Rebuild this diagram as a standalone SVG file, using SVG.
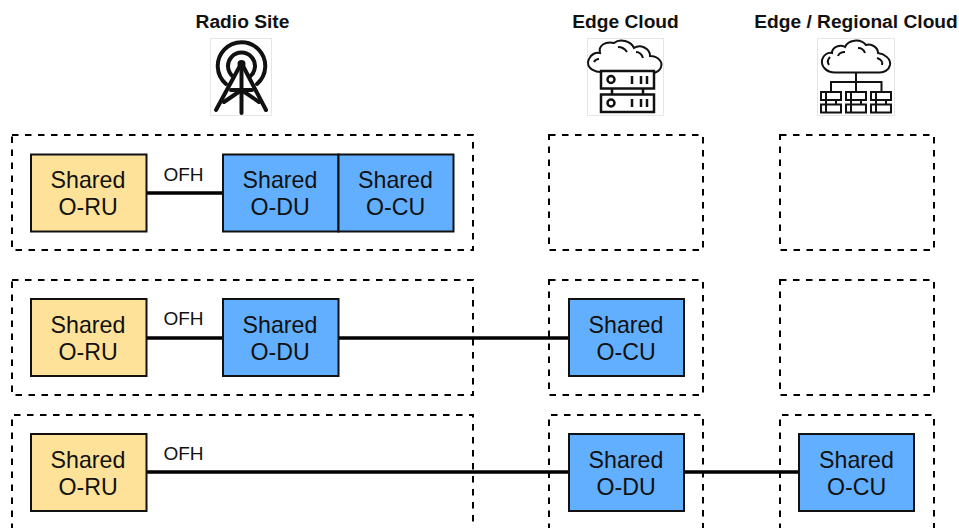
<svg xmlns="http://www.w3.org/2000/svg" width="959" height="528" viewBox="0 0 959 528">
<style>
text{font-family:"Liberation Sans",Arial,sans-serif;fill:#111}
.t{font-size:19.2px;font-weight:bold;text-anchor:middle}
.n{font-size:23.2px;text-anchor:middle}
.o{font-size:19px;text-anchor:middle}
.d{fill:none;stroke:#000;stroke-width:2;stroke-dasharray:6.5 6.5}
.ru{fill:#ffe299;stroke:#111;stroke-width:2}
.b{fill:#63afff;stroke:#111;stroke-width:2}
.c{fill:none;stroke:#000;stroke-width:3.5}
.i{fill:none;stroke:#111;stroke-width:2}
.bg{fill:#fff;stroke:#e6e6e6;stroke-width:1}
</style>
<rect width="959" height="528" fill="#fff"/>
<g id="headers">
<text class="t" x="242.500" y="28">Radio Site</text>
<text class="t" x="625.500" y="28">Edge Cloud</text>
<text class="t" x="856" y="28">Edge / Regional Cloud</text>
</g>
<g id="icon-radio">
<rect class="bg" x="210.500" y="38.500" width="61" height="77"/>
<g fill="none" stroke="#111" stroke-width="4" stroke-linecap="round">
<path d="M226 84A23.750 23.750 0 1 1 257 84"/>
<path d="M233 76.500A13.500 13.500 0 1 1 250 76.500"/>
<path d="M241.500 63V113"/>
<path d="M241.500 63L216 110"/>
<path d="M241.500 63L266 110"/>
<path d="M231 90H252"/>
<path d="M224 102L241.500 90L259 102"/>
</g>
<circle cx="241.500" cy="64" r="4" fill="#111"/>
</g>
<g id="icon-edge">
<rect class="bg" x="587.500" y="38.500" width="76" height="77"/>
<path class="i" stroke-width="2.500" d="M600 72C590 71 586 65 589 59C591 54 596 52 600 53C598 45 606 41 614 43C620 38 631 41 634 48C640 44 650 48 650 56C658 56 663 62 661 67C660 71 657 72 654 73"/>
<path class="i" d="M594 62C595 60 597 59 599 59M618 47C622 47 625 49 627 52M636 52C640 52 642 55 643 58"/>
<g fill="none" stroke="#111" stroke-width="2.500">
<rect x="601" y="71" width="53" height="17.500"/>
<rect x="601" y="94.500" width="53" height="17.500"/>
<path d="M612 88V94.500M643 88V94.500"/>
<circle cx="611" cy="79.500" r="3.500"/>
<circle cx="611" cy="103" r="3.500"/>
<path d="M632 76V84M641 76V84M647 76V84M632 99V107M641 99V107M647 99V107"/>
</g>
</g>
<g id="icon-regional">
<rect class="bg" x="817.500" y="38.500" width="77" height="77"/>
<path class="i" stroke-width="2.500" d="M835 72.500C826 72.500 821 66 822 60C823 55 828 52 832 53C832 47 840 44 845 47C848 40 860 38 866 45C872 43 878 48 878 53C885 54 891 59 890 65C889 70 884 72.500 880 72.500Z"/>
<path class="i" d="M829 65C827 62 828 59 830 57M838 56C839 53 842 52 845 52M858 48C862 48 864 50 865 53M877 58C881 59 883 62 882 65"/>
<path class="i" d="M856 72.500V92M831 92V82H881.500V92"/>
<g fill="none" stroke="#111" stroke-width="2">
<rect x="821" y="92" width="20" height="8"/><rect x="821" y="104.500" width="20" height="8"/>
<rect x="846" y="92" width="20" height="8"/><rect x="846" y="104.500" width="20" height="8"/>
<rect x="871" y="92" width="20" height="8"/><rect x="871" y="104.500" width="20" height="8"/>
<path d="M826 100V104.500M836 100V104.500M851 100V104.500M861 100V104.500M876 100V104.500M886 100V104.500"/>
<path d="M826 92V100M826 104.500V112.500M851 92V100M851 104.500V112.500M876 92V100M876 104.500V112.500"/>
</g>
</g>
<g id="sites">
<rect class="d" x="12" y="135" width="461" height="115"/>
<rect class="d" x="549" y="135" width="154" height="115"/>
<rect class="d" x="780" y="135" width="154" height="115"/>
<rect class="d" x="12" y="280" width="461" height="115"/>
<rect class="d" x="549" y="280" width="154" height="115"/>
<rect class="d" x="780" y="280" width="154" height="115"/>
<path class="d" d="M12 530V415H473V530"/>
<path class="d" d="M549 530V415H703V530"/>
<path class="d" d="M780 530V415H934V530"/>
</g>
<g id="connectors">
<path class="c" d="M147 193H223"/>
<path class="c" d="M147 338H223"/>
<path class="c" d="M339 338H569"/>
<path class="c" d="M147 472H569"/>
<path class="c" d="M685 472H799"/>
</g>
<g id="link-labels">
<text class="o" x="183.500" y="181">OFH</text>
<text class="o" x="183.500" y="325">OFH</text>
<text class="o" x="183.500" y="460">OFH</text>
</g>
<g id="r1-ru"><rect class="ru" x="31" y="154.500" width="115.500" height="77"/><text class="n" x="88" y="188">Shared</text><text class="n" x="88" y="215">O-RU</text></g>
<g id="r1-du"><rect class="b" x="223" y="154.500" width="115.500" height="77"/><text class="n" x="280" y="188">Shared</text><text class="n" x="280" y="215">O-DU</text></g>
<g id="r1-cu"><rect class="b" x="338.500" y="154.500" width="115" height="77"/><text class="n" x="395.500" y="188">Shared</text><text class="n" x="395.500" y="215">O-CU</text></g>
<g id="r2-ru"><rect class="ru" x="31" y="299" width="115.500" height="77"/><text class="n" x="88" y="333">Shared</text><text class="n" x="88" y="360">O-RU</text></g>
<g id="r2-du"><rect class="b" x="223" y="299" width="115.500" height="77"/><text class="n" x="280" y="333">Shared</text><text class="n" x="280" y="360">O-DU</text></g>
<g id="r2-cu"><rect class="b" x="569" y="299" width="115" height="77"/><text class="n" x="626" y="333">Shared</text><text class="n" x="626" y="360">O-CU</text></g>
<g id="r3-ru"><rect class="ru" x="31" y="434" width="115.500" height="77"/><text class="n" x="88" y="468">Shared</text><text class="n" x="88" y="494.500">O-RU</text></g>
<g id="r3-du"><rect class="b" x="569" y="434" width="115" height="77"/><text class="n" x="626" y="468">Shared</text><text class="n" x="626" y="494.500">O-DU</text></g>
<g id="r3-cu"><rect class="b" x="799" y="434" width="115" height="77"/><text class="n" x="856.500" y="468">Shared</text><text class="n" x="856.500" y="494.500">O-CU</text></g>
</svg>
